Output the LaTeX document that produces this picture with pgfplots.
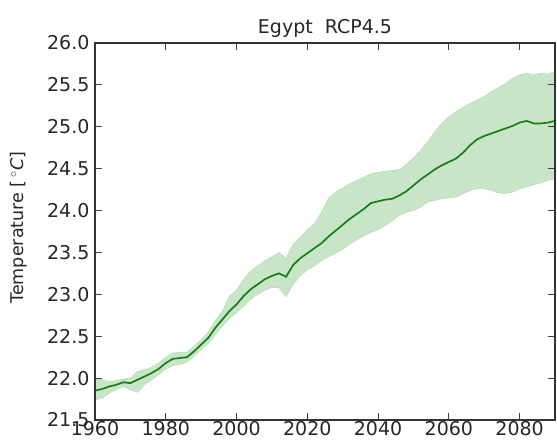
\documentclass[border=0pt]{standalone}
\usepackage{pgfplots}
\pgfplotsset{compat=1.18}
\usepackage{pgfplotstable}
\usepgfplotslibrary{fillbetween}
\usepackage{fontspec}
\setmainfont{DejaVu Sans}
\definecolor{lineg}{RGB}{20,128,20}
\definecolor{fillg}{RGB}{200,229,200}
\definecolor{edgeg}{RGB}{175,218,175}
\pgfplotstableread{
year mean lo hi
1960 21.85 21.74 21.99
1962 21.87 21.76 21.98
1964 21.90 21.82 21.96
1966 21.92 21.86 21.97
1968 21.95 21.90 21.99
1970 21.94 21.86 22.00
1972 21.98 21.83 22.08
1974 22.02 21.92 22.10
1976 22.06 21.98 22.13
1978 22.11 22.04 22.18
1980 22.18 22.11 22.25
1982 22.23 22.15 22.30
1984 22.24 22.16 22.31
1986 22.25 22.19 22.31
1988 22.32 22.26 22.38
1990 22.40 22.34 22.46
1992 22.48 22.41 22.55
1994 22.60 22.52 22.69
1996 22.70 22.62 22.80
1998 22.80 22.71 22.98
2000 22.88 22.78 23.05
2002 22.98 22.86 23.18
2004 23.06 22.94 23.28
2006 23.12 23.00 23.34
2008 23.18 23.05 23.40
2010 23.22 23.08 23.45
2012 23.25 23.08 23.50
2014 23.21 22.97 23.43
2016 23.35 23.12 23.60
2018 23.43 23.22 23.68
2020 23.49 23.29 23.77
2022 23.55 23.34 23.84
2024 23.61 23.40 23.98
2026 23.69 23.45 24.15
2028 23.76 23.49 24.22
2030 23.83 23.54 24.27
2032 23.90 23.60 24.32
2034 23.96 23.65 24.36
2036 24.02 23.70 24.40
2038 24.09 23.74 24.44
2040 24.11 23.77 24.46
2042 24.13 23.82 24.47
2044 24.14 23.88 24.48
2046 24.18 23.94 24.49
2048 24.23 23.98 24.55
2050 24.30 24.00 24.63
2052 24.37 24.04 24.72
2054 24.43 24.10 24.82
2056 24.49 24.12 24.94
2058 24.54 24.14 25.04
2060 24.58 24.15 25.12
2062 24.62 24.16 25.18
2064 24.69 24.20 25.23
2066 24.78 24.24 25.28
2068 24.85 24.26 25.32
2070 24.89 24.26 25.36
2072 24.92 24.24 25.42
2074 24.95 24.21 25.47
2076 24.98 24.20 25.52
2078 25.01 24.22 25.58
2080 25.05 24.26 25.62
2082 25.07 24.28 25.64
2084 25.04 24.31 25.62
2086 25.04 24.33 25.64
2088 25.05 24.36 25.63
2090 25.07 24.38 25.66
}\data
\begin{document}
\begin{tikzpicture}
\begin{axis}[
  at={(0,0)}, anchor=south west,
  scale only axis,
  width=460pt, height=377pt,
  xmin=1960, xmax=2090, ymin=21.5, ymax=26.0,
  xtick={1960,1980,...,2080},
  ytick={21.5,22.0,...,26.0},
  x tick label style={/pgf/number format/1000 sep={}},
  y tick label style={/pgf/number format/fixed, /pgf/number format/fixed zerofill, /pgf/number format/precision=1},
  /pgf/number format/assume math mode=true,
  tick label style={font=\fontsize{19}{22}\selectfont, text=black!85},
  xticklabel style={yshift=2pt},
  yticklabel style={xshift=-2pt},
  tick align=inside,
  tick pos=both,
  major tick length=7pt,
  tick style={black!75, line width=0.8pt},
  axis line style={black!80, line width=1.1pt},
  title={Egypt\ \ RCP4.5},
  title style={font=\fontsize{19}{22}\selectfont, text=black!85, yshift=-4pt},
  ylabel={Temperature [\,$^\circ$\textit{C}]},
  ylabel style={font=\fontsize{17.5}{20}\selectfont, text=black!85, at={(axis description cs:-0.167,0.51)}, anchor=center},
  axis on top,
]
\addplot[name path=hi, draw=edgeg, line width=0.4pt, forget plot] table[x=year, y=hi] {\data};
\addplot[name path=lo, draw=edgeg, line width=0.4pt, forget plot] table[x=year, y=lo] {\data};
\addplot[fillg, forget plot] fill between[of=hi and lo];
\addplot[lineg, line width=1.7pt] table[x=year, y=mean] {\data};
\end{axis}
\pgfresetboundingbox
\useasboundingbox (-95pt,-23pt) rectangle ++(557pt,443pt);
\end{tikzpicture}
\end{document}
